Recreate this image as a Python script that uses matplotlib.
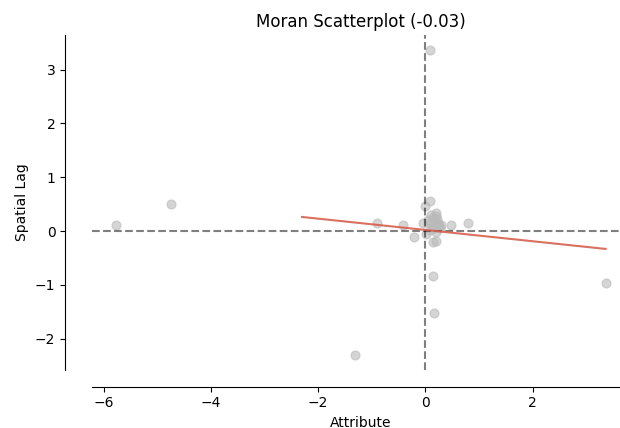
import matplotlib
matplotlib.use("Agg")
import matplotlib.pyplot as plt
import numpy as np

# Attribute (standardized z) and spatial lag values
attribute = [-5.76, -4.74, 0.09, -1.32, 0.15, 0.17, 3.36, 0.79, 0.48, -0.91,
             -0.41, -0.22, 0.00, 0.08, -0.04, 0.14, 0.19,
             0.09, 0.24, 0.19, 0.15, 0.22, 0.09, 0.19, 0.12, 0.28, 0.05,
             0.30, 0.02, 0.16, 0.20, 0.25, 0.11, 0.18]
spatial_lag = [0.11, 0.50, 3.36, -2.30, -0.84, -1.52, -0.97, 0.14, 0.12, 0.15,
               0.11, -0.11, 0.47, 0.56, 0.15, -0.20, -0.19,
               0.14, 0.15, 0.33, 0.25, 0.22, 0.02, -0.01, 0.08, 0.05, 0.20,
               0.12, -0.05, 0.05, 0.28, 0.10, 0.30, 0.18]

# fitted line
fit_intercept = 0.02
fit_slope = -0.105
morans_i = -0.03

fig = plt.figure(figsize=(6.2, 4.28), dpi=100)
ax = fig.add_axes([92 / 620, 58 / 428, 538 / 620, 335 / 428])

ax.spines['left'].set_position(('axes', -0.05))
ax.spines['right'].set_color('none')
ax.spines['bottom'].set_position(('axes', -0.05))
ax.spines['top'].set_color('none')

lag = np.array(spatial_lag)
predy = fit_intercept + fit_slope * lag
order = np.argsort(lag)

ax.axvline(0, alpha=0.5, color='k', linestyle='--')
ax.axhline(0, alpha=0.5, color='k', linestyle='--')
ax.scatter(attribute, spatial_lag, alpha=0.6, color='#bababa', s=40)
ax.plot(lag[order], predy[order], alpha=0.9, color='#d6604d')

ax.set_title('Moran Scatterplot ({})'.format(round(morans_i, 2)))
ax.set_xlabel('Attribute')
ax.set_ylabel('Spatial Lag')

fig.savefig('out.png', dpi=100)
